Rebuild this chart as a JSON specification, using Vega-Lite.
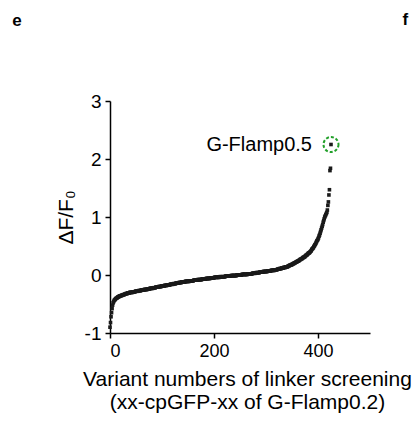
{
  "$schema": "https://vega.github.io/schema/vega-lite/v6.json",
  "autosize": {"type": "none"},
  "padding": {"left": 110, "top": 101, "right": 47, "bottom": 92},
  "width": 260,
  "height": 232,
  "background": "white",
  "config": {"view": {"stroke": null}, "font": "Liberation Sans"},
  "datasets": {
    "pts": [
      {"i":0,"v":-0.9},{"i":1,"v":-0.82},{"i":2,"v":-0.72},{"i":3,"v":-0.65},{"i":4,"v":-0.58},{"i":5,"v":-0.52},{"i":6,"v":-0.48},{"i":7,"v":-0.46},{"i":8,"v":-0.44},{"i":9,"v":-0.43},
      {"i":10,"v":-0.42},{"i":11,"v":-0.41},{"i":12,"v":-0.4},{"i":13,"v":-0.4},{"i":14,"v":-0.39},{"i":15,"v":-0.38},{"i":16,"v":-0.38},{"i":17,"v":-0.37},{"i":18,"v":-0.37},{"i":19,"v":-0.36},
      {"i":20,"v":-0.36},{"i":21,"v":-0.36},{"i":22,"v":-0.35},{"i":23,"v":-0.35},{"i":24,"v":-0.35},{"i":25,"v":-0.34},{"i":26,"v":-0.34},{"i":27,"v":-0.34},{"i":28,"v":-0.33},{"i":29,"v":-0.33},
      {"i":30,"v":-0.33},{"i":31,"v":-0.32},{"i":32,"v":-0.32},{"i":33,"v":-0.32},{"i":34,"v":-0.31},{"i":35,"v":-0.31},{"i":36,"v":-0.31},{"i":37,"v":-0.31},{"i":38,"v":-0.3},{"i":39,"v":-0.3},
      {"i":40,"v":-0.3},{"i":41,"v":-0.3},{"i":42,"v":-0.3},{"i":43,"v":-0.3},{"i":44,"v":-0.29},{"i":45,"v":-0.29},{"i":46,"v":-0.29},{"i":47,"v":-0.29},{"i":48,"v":-0.29},{"i":49,"v":-0.28},
      {"i":50,"v":-0.28},{"i":51,"v":-0.28},{"i":52,"v":-0.28},{"i":53,"v":-0.28},{"i":54,"v":-0.28},{"i":55,"v":-0.27},{"i":56,"v":-0.27},{"i":57,"v":-0.27},{"i":58,"v":-0.27},{"i":59,"v":-0.27},
      {"i":60,"v":-0.26},{"i":61,"v":-0.26},{"i":62,"v":-0.26},{"i":63,"v":-0.26},{"i":64,"v":-0.26},{"i":65,"v":-0.26},{"i":66,"v":-0.25},{"i":67,"v":-0.25},{"i":68,"v":-0.25},{"i":69,"v":-0.25},
      {"i":70,"v":-0.25},{"i":71,"v":-0.25},{"i":72,"v":-0.24},{"i":73,"v":-0.24},{"i":74,"v":-0.24},{"i":75,"v":-0.24},{"i":76,"v":-0.24},{"i":77,"v":-0.23},{"i":78,"v":-0.23},{"i":79,"v":-0.23},
      {"i":80,"v":-0.23},{"i":81,"v":-0.23},{"i":82,"v":-0.23},{"i":83,"v":-0.22},{"i":84,"v":-0.22},{"i":85,"v":-0.22},{"i":86,"v":-0.22},{"i":87,"v":-0.22},{"i":88,"v":-0.21},{"i":89,"v":-0.21},
      {"i":90,"v":-0.21},{"i":91,"v":-0.21},{"i":92,"v":-0.21},{"i":93,"v":-0.21},{"i":94,"v":-0.2},{"i":95,"v":-0.2},{"i":96,"v":-0.2},{"i":97,"v":-0.2},{"i":98,"v":-0.2},{"i":99,"v":-0.19},
      {"i":100,"v":-0.19},{"i":101,"v":-0.19},{"i":102,"v":-0.19},{"i":103,"v":-0.19},{"i":104,"v":-0.19},{"i":105,"v":-0.18},{"i":106,"v":-0.18},{"i":107,"v":-0.18},{"i":108,"v":-0.18},{"i":109,"v":-0.18},
      {"i":110,"v":-0.17},{"i":111,"v":-0.17},{"i":112,"v":-0.17},{"i":113,"v":-0.17},{"i":114,"v":-0.17},{"i":115,"v":-0.17},{"i":116,"v":-0.16},{"i":117,"v":-0.16},{"i":118,"v":-0.16},{"i":119,"v":-0.16},
      {"i":120,"v":-0.16},{"i":121,"v":-0.16},{"i":122,"v":-0.15},{"i":123,"v":-0.15},{"i":124,"v":-0.15},{"i":125,"v":-0.15},{"i":126,"v":-0.15},{"i":127,"v":-0.14},{"i":128,"v":-0.14},{"i":129,"v":-0.14},
      {"i":130,"v":-0.14},{"i":131,"v":-0.14},{"i":132,"v":-0.14},{"i":133,"v":-0.13},{"i":134,"v":-0.13},{"i":135,"v":-0.13},{"i":136,"v":-0.13},{"i":137,"v":-0.13},{"i":138,"v":-0.12},{"i":139,"v":-0.12},
      {"i":140,"v":-0.12},{"i":141,"v":-0.12},{"i":142,"v":-0.12},{"i":143,"v":-0.12},{"i":144,"v":-0.12},{"i":145,"v":-0.11},{"i":146,"v":-0.11},{"i":147,"v":-0.11},{"i":148,"v":-0.11},{"i":149,"v":-0.11},
      {"i":150,"v":-0.11},{"i":151,"v":-0.11},{"i":152,"v":-0.11},{"i":153,"v":-0.1},{"i":154,"v":-0.1},{"i":155,"v":-0.1},{"i":156,"v":-0.1},{"i":157,"v":-0.1},{"i":158,"v":-0.1},{"i":159,"v":-0.1},
      {"i":160,"v":-0.1},{"i":161,"v":-0.09},{"i":162,"v":-0.09},{"i":163,"v":-0.09},{"i":164,"v":-0.09},{"i":165,"v":-0.09},{"i":166,"v":-0.09},{"i":167,"v":-0.09},{"i":168,"v":-0.09},{"i":169,"v":-0.08},
      {"i":170,"v":-0.08},{"i":171,"v":-0.08},{"i":172,"v":-0.08},{"i":173,"v":-0.08},{"i":174,"v":-0.08},{"i":175,"v":-0.08},{"i":176,"v":-0.08},{"i":177,"v":-0.07},{"i":178,"v":-0.07},{"i":179,"v":-0.07},
      {"i":180,"v":-0.07},{"i":181,"v":-0.07},{"i":182,"v":-0.07},{"i":183,"v":-0.07},{"i":184,"v":-0.07},{"i":185,"v":-0.06},{"i":186,"v":-0.06},{"i":187,"v":-0.06},{"i":188,"v":-0.06},{"i":189,"v":-0.06},
      {"i":190,"v":-0.06},{"i":191,"v":-0.06},{"i":192,"v":-0.06},{"i":193,"v":-0.05},{"i":194,"v":-0.05},{"i":195,"v":-0.05},{"i":196,"v":-0.05},{"i":197,"v":-0.05},{"i":198,"v":-0.05},{"i":199,"v":-0.05},
      {"i":200,"v":-0.05},{"i":201,"v":-0.04},{"i":202,"v":-0.04},{"i":203,"v":-0.04},{"i":204,"v":-0.04},{"i":205,"v":-0.04},{"i":206,"v":-0.04},{"i":207,"v":-0.04},{"i":208,"v":-0.04},{"i":209,"v":-0.04},
      {"i":210,"v":-0.04},{"i":211,"v":-0.03},{"i":212,"v":-0.03},{"i":213,"v":-0.03},{"i":214,"v":-0.03},{"i":215,"v":-0.03},{"i":216,"v":-0.03},{"i":217,"v":-0.03},{"i":218,"v":-0.03},{"i":219,"v":-0.03},
      {"i":220,"v":-0.03},{"i":221,"v":-0.03},{"i":222,"v":-0.02},{"i":223,"v":-0.02},{"i":224,"v":-0.02},{"i":225,"v":-0.02},{"i":226,"v":-0.02},{"i":227,"v":-0.02},{"i":228,"v":-0.02},{"i":229,"v":-0.02},
      {"i":230,"v":-0.02},{"i":231,"v":-0.02},{"i":232,"v":-0.02},{"i":233,"v":-0.01},{"i":234,"v":-0.01},{"i":235,"v":-0.01},{"i":236,"v":-0.01},{"i":237,"v":-0.01},{"i":238,"v":-0.01},{"i":239,"v":-0.01},
      {"i":240,"v":-0.01},{"i":241,"v":-0.01},{"i":242,"v":-0.01},{"i":243,"v":-0.01},{"i":244,"v":0},{"i":245,"v":0},{"i":246,"v":0},{"i":247,"v":0},{"i":248,"v":0},{"i":249,"v":0},
      {"i":250,"v":0},{"i":251,"v":0},{"i":252,"v":0},{"i":253,"v":0},{"i":254,"v":0.01},{"i":255,"v":0.01},{"i":256,"v":0.01},{"i":257,"v":0.01},{"i":258,"v":0.01},{"i":259,"v":0.01},
      {"i":260,"v":0.01},{"i":261,"v":0.01},{"i":262,"v":0.01},{"i":263,"v":0.01},{"i":264,"v":0.01},{"i":265,"v":0.02},{"i":266,"v":0.02},{"i":267,"v":0.02},{"i":268,"v":0.02},{"i":269,"v":0.02},
      {"i":270,"v":0.02},{"i":271,"v":0.02},{"i":272,"v":0.02},{"i":273,"v":0.02},{"i":274,"v":0.03},{"i":275,"v":0.03},{"i":276,"v":0.03},{"i":277,"v":0.03},{"i":278,"v":0.03},{"i":279,"v":0.03},
      {"i":280,"v":0.03},{"i":281,"v":0.04},{"i":282,"v":0.04},{"i":283,"v":0.04},{"i":284,"v":0.04},{"i":285,"v":0.04},{"i":286,"v":0.04},{"i":287,"v":0.04},{"i":288,"v":0.05},{"i":289,"v":0.05},
      {"i":290,"v":0.05},{"i":291,"v":0.05},{"i":292,"v":0.05},{"i":293,"v":0.05},{"i":294,"v":0.05},{"i":295,"v":0.06},{"i":296,"v":0.06},{"i":297,"v":0.06},{"i":298,"v":0.06},{"i":299,"v":0.06},
      {"i":300,"v":0.06},{"i":301,"v":0.06},{"i":302,"v":0.06},{"i":303,"v":0.07},{"i":304,"v":0.07},{"i":305,"v":0.07},{"i":306,"v":0.07},{"i":307,"v":0.07},{"i":308,"v":0.07},{"i":309,"v":0.07},
      {"i":310,"v":0.08},{"i":311,"v":0.08},{"i":312,"v":0.08},{"i":313,"v":0.08},{"i":314,"v":0.08},{"i":315,"v":0.08},{"i":316,"v":0.08},{"i":317,"v":0.09},{"i":318,"v":0.09},{"i":319,"v":0.09},
      {"i":320,"v":0.09},{"i":321,"v":0.09},{"i":322,"v":0.1},{"i":323,"v":0.1},{"i":324,"v":0.1},{"i":325,"v":0.1},{"i":326,"v":0.11},{"i":327,"v":0.11},{"i":328,"v":0.11},{"i":329,"v":0.11},
      {"i":330,"v":0.12},{"i":331,"v":0.12},{"i":332,"v":0.12},{"i":333,"v":0.12},{"i":334,"v":0.13},{"i":335,"v":0.13},{"i":336,"v":0.13},{"i":337,"v":0.13},{"i":338,"v":0.14},{"i":339,"v":0.14},
      {"i":340,"v":0.14},{"i":341,"v":0.14},{"i":342,"v":0.15},{"i":343,"v":0.15},{"i":344,"v":0.16},{"i":345,"v":0.16},{"i":346,"v":0.17},{"i":347,"v":0.17},{"i":348,"v":0.17},{"i":349,"v":0.18},
      {"i":350,"v":0.18},{"i":351,"v":0.19},{"i":352,"v":0.19},{"i":353,"v":0.2},{"i":354,"v":0.2},{"i":355,"v":0.21},{"i":356,"v":0.21},{"i":357,"v":0.22},{"i":358,"v":0.22},{"i":359,"v":0.23},
      {"i":360,"v":0.23},{"i":361,"v":0.24},{"i":362,"v":0.24},{"i":363,"v":0.25},{"i":364,"v":0.25},{"i":365,"v":0.26},{"i":366,"v":0.27},{"i":367,"v":0.27},{"i":368,"v":0.28},{"i":369,"v":0.28},
      {"i":370,"v":0.29},{"i":371,"v":0.3},{"i":372,"v":0.3},{"i":373,"v":0.31},{"i":374,"v":0.31},{"i":375,"v":0.32},{"i":376,"v":0.33},{"i":377,"v":0.34},{"i":378,"v":0.34},{"i":379,"v":0.35},
      {"i":380,"v":0.36},{"i":381,"v":0.37},{"i":382,"v":0.38},{"i":383,"v":0.38},{"i":384,"v":0.39},{"i":385,"v":0.4},{"i":386,"v":0.41},{"i":387,"v":0.42},{"i":388,"v":0.44},{"i":389,"v":0.45},
      {"i":390,"v":0.46},{"i":391,"v":0.47},{"i":392,"v":0.49},{"i":393,"v":0.5},{"i":394,"v":0.52},{"i":395,"v":0.53},{"i":396,"v":0.55},{"i":397,"v":0.57},{"i":398,"v":0.59},{"i":399,"v":0.6},
      {"i":400,"v":0.62},{"i":401,"v":0.64},{"i":402,"v":0.67},{"i":403,"v":0.69},{"i":404,"v":0.72},{"i":405,"v":0.75},{"i":406,"v":0.78},{"i":407,"v":0.81},{"i":408,"v":0.84},{"i":409,"v":0.87},
      {"i":410,"v":0.91},{"i":411,"v":0.94},{"i":412,"v":0.97},{"i":413,"v":1.0},{"i":414,"v":1.02},{"i":415,"v":1.04},{"i":416,"v":1.06},{"i":417,"v":1.08},{"i":418,"v":1.12},{"i":419,"v":1.2},
      {"i":420,"v":1.26},{"i":421,"v":1.38},{"i":422,"v":1.47},{"i":423,"v":1.8},{"i":424,"v":1.84},{"i":425,"v":2.25}
    ],
    "hit": [{"i":425,"v":2.25,"name":"G-Flamp0.5"}],
    "one": [{}]
  },
  "layer": [
    {
      "data": {"name": "pts"},
      "mark": {"type": "point", "shape": "square", "filled": true, "size": 13, "color": "#1a1a1a", "opacity": 1},
      "encoding": {
        "x": {
          "field": "i", "type": "quantitative",
          "scale": {"domain": [0, 500], "nice": false, "zero": false},
          "axis": {
            "values": [0, 200, 400],
            "labelExpr": "'' + datum.value",
            "title": ["Variant numbers of linker screening", "(xx-cpGFP-xx of G-Flamp0.2)"],
            "grid": false,
            "domainColor": "#000", "domainWidth": 1.5,
            "tickColor": "#000", "tickWidth": 1.5, "tickSize": 5,
            "labelFont": "Liberation Sans", "labelFontSize": 18, "labelColor": "#000", "labelPadding": 4,
            "titleFont": "Liberation Sans", "titleFontSize": 21, "titleFontWeight": "normal", "titleColor": "#000",
            "titleLineHeight": 23, "titlePadding": 8, "titleX": 137
          }
        },
        "y": {
          "field": "v", "type": "quantitative",
          "scale": {"domain": [-1, 3], "nice": false, "zero": false},
          "axis": {
            "values": [-1, 0, 1, 2, 3],
            "labelExpr": "'' + datum.value",
            "title": "ΔF/F₀",
            "grid": false,
            "domainColor": "#000", "domainWidth": 1.5,
            "tickColor": "#000", "tickWidth": 1.5, "tickSize": 5,
            "labelFont": "Liberation Sans", "labelFontSize": 19, "labelColor": "#000", "labelPadding": 4,
            "titleFont": "Liberation Sans", "titleFontSize": 21, "titleFontWeight": "normal", "titleColor": "#000",
            "titlePadding": 8
          }
        }
      }
    },
    {
      "data": {"name": "hit"},
      "mark": {"type": "point", "shape": "circle", "filled": false, "size": 225, "stroke": "#22a02a", "strokeWidth": 2, "strokeDash": [3, 2], "opacity": 1},
      "encoding": {
        "x": {"field": "i", "type": "quantitative"},
        "y": {"field": "v", "type": "quantitative"}
      }
    },
    {
      "data": {"name": "hit"},
      "mark": {"type": "text", "align": "right", "baseline": "alphabetic", "dx": -19, "dy": 6, "font": "Liberation Sans", "fontSize": 20, "color": "#000"},
      "encoding": {
        "x": {"field": "i", "type": "quantitative"},
        "y": {"field": "v", "type": "quantitative"},
        "text": {"field": "name"}
      }
    },
    {
      "data": {"name": "one"},
      "mark": {"type": "text", "text": "e", "align": "center", "baseline": "middle", "font": "Liberation Sans", "fontSize": 17, "fontWeight": "bold", "color": "#000"},
      "encoding": {"x": {"datum": -179}, "y": {"datum": 4.38}}
    },
    {
      "data": {"name": "one"},
      "mark": {"type": "text", "text": "f", "align": "center", "baseline": "middle", "font": "Liberation Sans", "fontSize": 17, "fontWeight": "bold", "color": "#000"},
      "encoding": {"x": {"datum": 568}, "y": {"datum": 4.4}}
    }
  ]
}
